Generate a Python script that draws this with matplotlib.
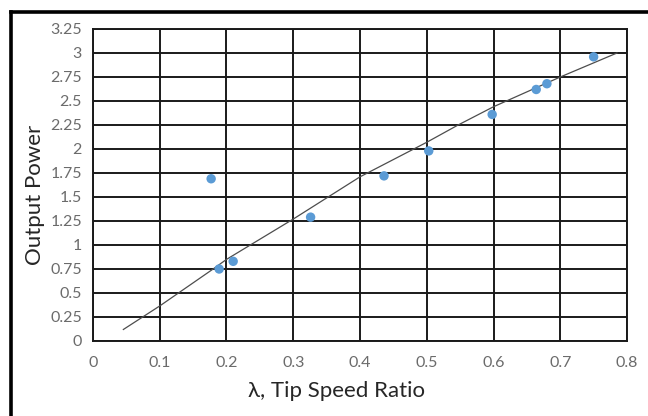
import matplotlib.pyplot as plt
from matplotlib.lines import Line2D

FONT = ["Lato", "DejaVu Sans"]

# measured points
tsr = [0.177, 0.189, 0.210, 0.326, 0.436, 0.503, 0.598, 0.664, 0.680, 0.750]
power = [1.69, 0.75, 0.83, 1.29, 1.72, 1.98, 2.36, 2.62, 2.68, 2.96]

# trendline
trend_x = [0.0455, 0.1, 0.18, 0.2, 0.3, 0.4, 0.5, 0.547, 0.6, 0.7, 0.785]
trend_y = [0.12, 0.365, 0.75, 0.85, 1.27, 1.71, 2.07, 2.25, 2.44, 2.75, 3.0]

x_ticks = [0, 0.1, 0.2, 0.3, 0.4, 0.5, 0.6, 0.7, 0.8]
x_labels = ["0", "0.1", "0.2", "0.3", "0.4", "0.5", "0.6", "0.7", "0.8"]
y_ticks = [0, 0.25, 0.5, 0.75, 1, 1.25, 1.5, 1.75, 2, 2.25, 2.5, 2.75, 3, 3.25]
y_labels = ["0", "0.25", "0.5", "0.75", "1", "1.25", "1.5", "1.75", "2",
            "2.25", "2.5", "2.75", "3", "3.25"]

fig = plt.figure(figsize=(6.48, 4.16), dpi=100)
ax = fig.add_axes([0.1435, 0.1803, 0.8241, 0.75])

ax.plot(trend_x, trend_y, color="#4d4d4d", linewidth=0.9, zorder=3)
ax.scatter(tsr, power, s=46, color="#5b9bd5", edgecolors="none", zorder=4)

ax.set_xlim(0, 0.8)
ax.set_ylim(0, 3.25)
ax.set_xticks(x_ticks)
ax.set_xticklabels(x_labels, family=FONT, fontsize=11.5, color="#6b6b6b")
ax.set_yticks(y_ticks)
ax.set_yticklabels(y_labels, family=FONT, fontsize=11.5, color="#6b6b6b")
ax.tick_params(length=0)
ax.tick_params(axis="x", pad=11)
ax.tick_params(axis="y", pad=8)

ax.grid(True, color="#1a1a1a", linewidth=1.4)
ax.set_axisbelow(True)
for side in ["left", "right", "top", "bottom"]:
    ax.spines[side].set_color("#1a1a1a")
    ax.spines[side].set_linewidth(1.4)

ax.set_xlabel("λ, Tip Speed Ratio", family=FONT, fontsize=16, color="#262626")
ax.set_ylabel("Output Power", family=FONT, fontsize=16, color="#262626")
# Excel centres the titles on the chart area, not the plot area
ax.xaxis.set_label_coords(337 / 648, 1 - 391 / 416, transform=fig.transFigure)
ax.yaxis.set_label_coords(35 / 648, 1 - 195 / 416, transform=fig.transFigure)
ax.xaxis.label.set_va("center")
ax.yaxis.label.set_va("center")

# thick frame on the left and top edges
fig.add_artist(Line2D([0.0170, 0.0170], [0.0, 0.9700], color="black", linewidth=2.6,
                      transform=fig.transFigure, solid_capstyle="projecting"))
fig.add_artist(Line2D([0.0170, 1.0], [0.9700, 0.9700], color="black", linewidth=2.6,
                      transform=fig.transFigure, solid_capstyle="projecting"))

plt.savefig("out.png", dpi=100)
